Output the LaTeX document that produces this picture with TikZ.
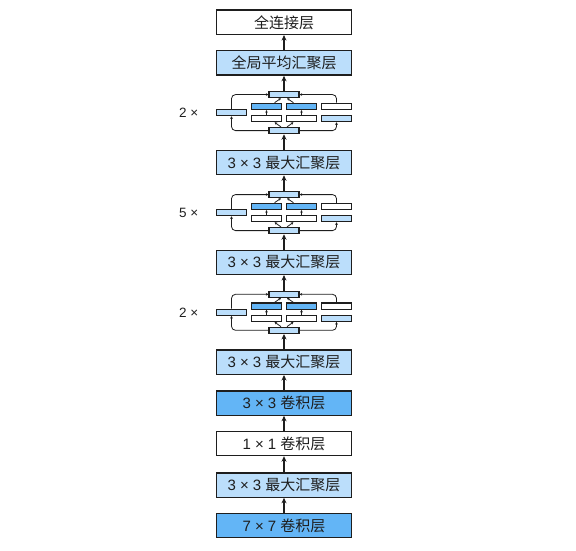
\documentclass[tikz,border=0pt]{standalone}
\usepackage{fontspec}
\setmainfont{Liberation Sans}
\newfontfamily\cjk{Noto Sans CJK SC}
\usetikzlibrary{arrows.meta}
\definecolor{lb}{RGB}{187,222,251}
\definecolor{db}{RGB}{99,181,246}
\definecolor{bd}{RGB}{30,30,30}
\newcommand\incep[3]{%
  \node[smallbox,fill=lb] (#1t) at (284,#2-18) {};
  \node[smallbox,fill=lb] (#1b) at (284,#2+18) {};
  \node[smallbox,fill=lb] (#1l) at (231.5,#2) {};
  \node[smallbox,fill=db] (#1u2) at (266.5,#2-6.2) {};
  \node[smallbox,fill=white] (#1d2) at (266.5,#2+6) {};
  \node[smallbox,fill=db] (#1u3) at (301.5,#2-6.2) {};
  \node[smallbox,fill=white] (#1d3) at (301.5,#2+6) {};
  \node[smallbox,fill=white] (#1u4) at (336.5,#2-6.2) {};
  \node[smallbox,fill=lb] (#1d4) at (336.5,#2+6) {};
  \draw[loopar] (#1b.west) -| (#1l.south);
  \draw[loopar] (#1l.north) |- (#1t.west);
  \draw[loopar] (#1b.east) -| (#1d4.south);
  \draw[loopar] (#1u4.north) |- (#1t.east);
  \draw[thinarrow] (#1d2.north) -- (#1u2.south);
  \draw[thinarrow] (#1d3.north) -- (#1u3.south);
  \draw[thinarrow] ([xshift=-3pt]#1b.north) -- ([xshift=8pt]#1d2.south);
  \draw[thinarrow] ([xshift=3pt]#1b.north) -- ([xshift=-8pt]#1d3.south);
  \draw[thinarrow] ([xshift=8pt]#1u2.north) -- ([xshift=-3pt]#1t.south);
  \draw[thinarrow] ([xshift=-8pt]#1u3.north) -- ([xshift=3pt]#1t.south);
  \node[lab] (#1lab) at (198.5,#2) {#3};
}
\begin{document}
\begin{tikzpicture}[x=1pt,y=-1pt,
  mainbox/.style={draw=bd,line width=1.3pt,minimum width=134.7pt,minimum height=24.3pt,inner sep=0pt,text=bd,font=\fontsize{15}{17}\selectfont},
  smallbox/.style={draw=bd,line width=1.1pt,minimum width=30pt,minimum height=6.2pt,inner sep=0pt},
  mainarrow/.style={-{Stealth[length=5.5pt,width=5pt]},line width=1.5pt,draw=bd},
  thinarrow/.style={-{Stealth[length=2.6pt,width=2.6pt]},line width=0.8pt,draw=bd},
  loopar/.style={thinarrow,rounded corners=4pt},
  lab/.style={font=\fontsize{13.5}{15}\selectfont,anchor=east,text=bd,inner sep=0pt}]
\useasboundingbox (0,0) rectangle (576,551);
\node[mainbox,fill=white] (fc) at (284,22.3) {\cjk 全连接层};
\node[mainbox,fill=lb] (gap) at (284,63) {\cjk 全局平均汇聚层};
\incep{ia}{112.6}{2 ×}
\node[mainbox,fill=lb] (mp3) at (284,162.5) {3 × 3 {\cjk 最大汇聚层}};
\incep{ib}{212.6}{5 ×}
\node[mainbox,fill=lb] (mp2) at (284,262.3) {3 × 3 {\cjk 最大汇聚层}};
\incep{ic}{312.3}{2 ×}
\node[mainbox,fill=lb] (mp1) at (284,362.2) {3 × 3 {\cjk 最大汇聚层}};
\node[mainbox,fill=db] (c3) at (284,403) {3 × 3 {\cjk 卷积层}};
\node[mainbox,fill=white] (c1) at (284,443.4) {1 × 1 {\cjk 卷积层}};
\node[mainbox,fill=lb] (mp0) at (284,485) {3 × 3 {\cjk 最大汇聚层}};
\node[mainbox,fill=db] (c7) at (284,525.6) {7 × 7 {\cjk 卷积层}};
\draw[mainarrow] (c7) -- (mp0);
\draw[mainarrow] (mp0) -- (c1);
\draw[mainarrow] (c1) -- (c3);
\draw[mainarrow] (c3) -- (mp1);
\draw[mainarrow] (mp1) -- (icb);
\draw[mainarrow] (ict) -- (mp2);
\draw[mainarrow] (mp2) -- (ibb);
\draw[mainarrow] (ibt) -- (mp3);
\draw[mainarrow] (mp3) -- (iab);
\draw[mainarrow] (iat) -- (gap);
\draw[mainarrow] (gap) -- (fc);
\end{tikzpicture}
\end{document}
